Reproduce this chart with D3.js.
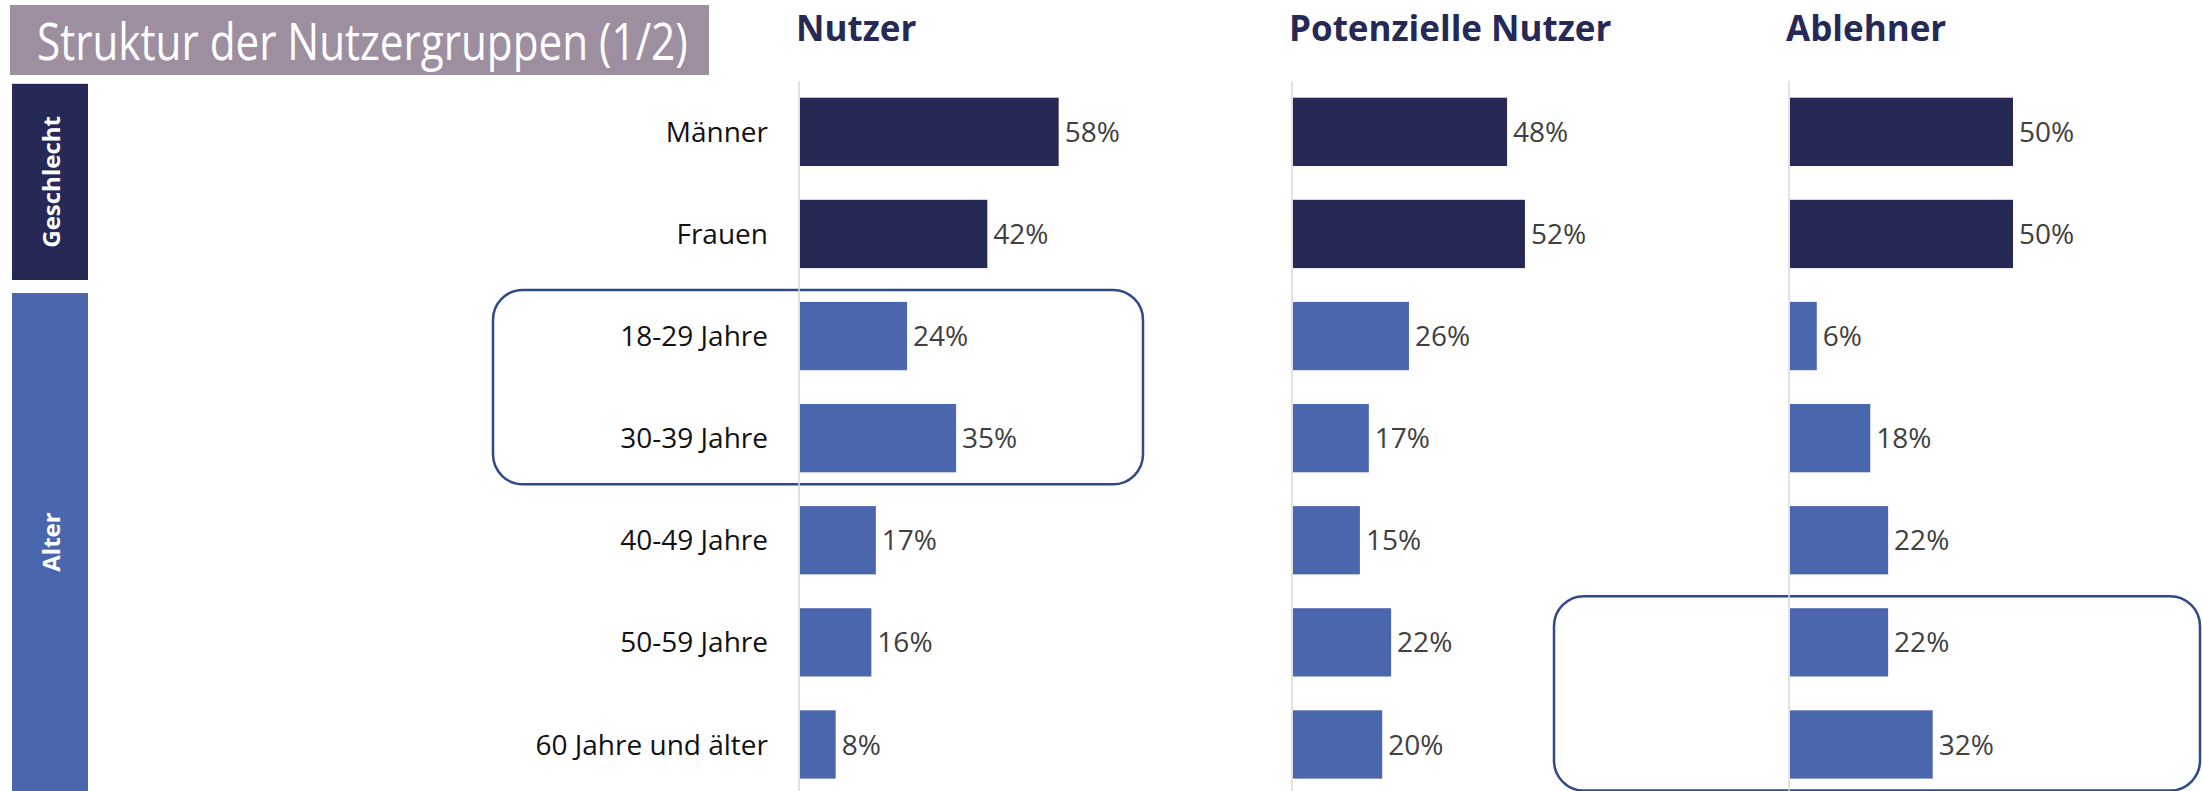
<!DOCTYPE html>
<html>
<head>
<meta charset="utf-8">
<script src="https://cdn.jsdelivr.net/npm/d3@7"></script>
<style>
  body { margin: 0; background: #fff; }
  text { font-family: "Open Sans", "Noto Sans", sans-serif; }
</style>
</head>
<body>
<div id="svgholder"></div>
<script>
// data
var categories = ["Männer", "Frauen", "18-29 Jahre", "30-39 Jahre", "40-49 Jahre", "50-59 Jahre", "60 Jahre und älter"]
var panel_titles = ["Nutzer", "Potenzielle Nutzer", "Ablehner"]
var nutzer = [58, 42, 24, 35, 17, 16, 8]
var potenzielle = [48, 52, 26, 17, 15, 22, 20]
var ablehner = [50, 50, 6, 18, 22, 22, 32]
var series = [nutzer, potenzielle, ablehner]

var group_names = ["Geschlecht", "Alter"]
var group_first = ["Männer", "18-29 Jahre"]
var group_last = ["Frauen", "60 Jahre und älter"]

// highlighted rows: panel index, first row, last row
var highlight_panel = [0, 2]
var highlight_first = ["18-29 Jahre", "50-59 Jahre"]
var highlight_last = ["30-39 Jahre", "60 Jahre und älter"]

var title_text = "Struktur der Nutzergruppen (1/2)"

var width = 2202,
    height = 791

var colour = {
    dark: "#262955",
    blue: "#4a67ad",
    title_bg: "#9e8fa0",
    frame: "#2f4a88",
    axis: "#d9d9d9",
    value: "#404040",
    label: "#111111"
}

var svg = d3.select("#svgholder")
    .append("svg")
    .attr("width", width)
    .attr("height", height)

var y = d3.scaleBand()
    .domain(categories)
    .range([80.8, 795.5])
    .paddingInner(0.331)
    .paddingOuter(0.1655)

// one linear scale shared by all panels, each panel shifts its origin
var panel_x = d3.scaleOrdinal()
    .domain(panel_titles)
    .range([799, 1292, 1789])

var x = d3.scaleLinear()
    .domain([0, 100])
    .range([0, 446])

function group_of(cat) {
    return categories.indexOf(cat) < categories.indexOf(group_first[1]) ? 0 : 1
}

// title box
svg.append("rect")
    .attr("x", 10)
    .attr("y", 5)
    .attr("width", 699)
    .attr("height", 70)
    .attr("fill", colour.title_bg)

// the title font in the reference is tall and narrow, squeeze it sideways
var title = svg.append("text")
    .attr("fill", "#fff")
    .style("font-size", "51px")
    .text(title_text)
var natural = title.node().getComputedTextLength()
title.attr("transform", "translate(37,60) scale(" + (651 / natural) + ",1)")

// group boxes on the left
var step = y.step()
group_names.forEach(function(name, i) {
    var top = y(group_first[i]) - step * y.paddingOuter() + (i == 0 ? 3 : 8)
    var bottom = y(group_last[i]) + y.bandwidth() + step * y.paddingOuter() - 5
    if (i == group_names.length - 1) bottom = height
    svg.append("rect")
        .attr("x", 12)
        .attr("y", top)
        .attr("width", 76)
        .attr("height", bottom - top)
        .attr("fill", i == 0 ? colour.dark : colour.blue)

    var cy = (top + bottom) / 2
    svg.append("text")
        .attr("transform", "translate(50," + cy + ") rotate(-90)")
        .attr("text-anchor", "middle")
        .attr("dominant-baseline", "central")
        .attr("fill", "#fff")
        .style("font-size", "24px")
        .style("font-weight", "bold")
        .text(name)
})

// highlight frames
highlight_panel.forEach(function(p, i) {
    var x0 = panel_x(panel_titles[p])
    var left = p == 0 ? x0 - 306 : x0 - 235
    var right = p == 0 ? x0 + 344 : width - 2
    var top = y(highlight_first[i]) - 12
    var bottom = y(highlight_last[i]) + y.bandwidth() + 12
    svg.append("rect")
        .attr("x", left)
        .attr("y", top)
        .attr("width", right - left)
        .attr("height", bottom - top)
        .attr("rx", 30)
        .attr("ry", 30)
        .attr("fill", "none")
        .attr("stroke", colour.frame)
        .attr("stroke-width", 2.5)
})

// category labels
svg.selectAll(".cat_label")
    .data(categories)
    .enter()
    .append("text")
    .attr("class", "cat_label")
    .attr("x", 768)
    .attr("y", function(d) { return y(d) + y.bandwidth() / 2 })
    .attr("dy", "0.36em")
    .attr("text-anchor", "end")
    .attr("fill", colour.label)
    .style("font-size", "28px")
    .text(function(d) { return d })

// panels
panel_titles.forEach(function(title, p) {
    var x0 = panel_x(title)
    var g = svg.append("g")
        .attr("transform", "translate(" + x0 + ",0)")

    g.append("text")
        .attr("x", -3)
        .attr("y", 41)
        .attr("fill", colour.dark)
        .style("font-size", "35px")
        .style("font-weight", "bold")
        .text(title)

    g.append("line")
        .attr("x1", 0)
        .attr("x2", 0)
        .attr("y1", 81)
        .attr("y2", height)
        .attr("stroke", colour.axis)
        .attr("stroke-width", 1.5)

    var rows = categories.map(function(c, i) {
        return { cat: c, value: series[p][i] }
    })

    g.selectAll(".bar")
        .data(rows)
        .enter()
        .append("rect")
        .attr("class", "bar")
        .attr("x", x(0) + 1)
        .attr("y", function(d) { return y(d.cat) })
        .attr("width", function(d) { return x(d.value) })
        .attr("height", y.bandwidth())
        .attr("fill", function(d) { return group_of(d.cat) == 0 ? colour.dark : colour.blue })

    g.selectAll(".value_label")
        .data(rows)
        .enter()
        .append("text")
        .attr("class", "value_label")
        .attr("x", function(d) { return x(d.value) + 7 })
        .attr("y", function(d) { return y(d.cat) + y.bandwidth() / 2 })
        .attr("dy", "0.36em")
        .attr("fill", colour.value)
        .style("font-size", "28px")
        .text(function(d) { return d.value + "%" })
})
</script>
</body>
</html>
